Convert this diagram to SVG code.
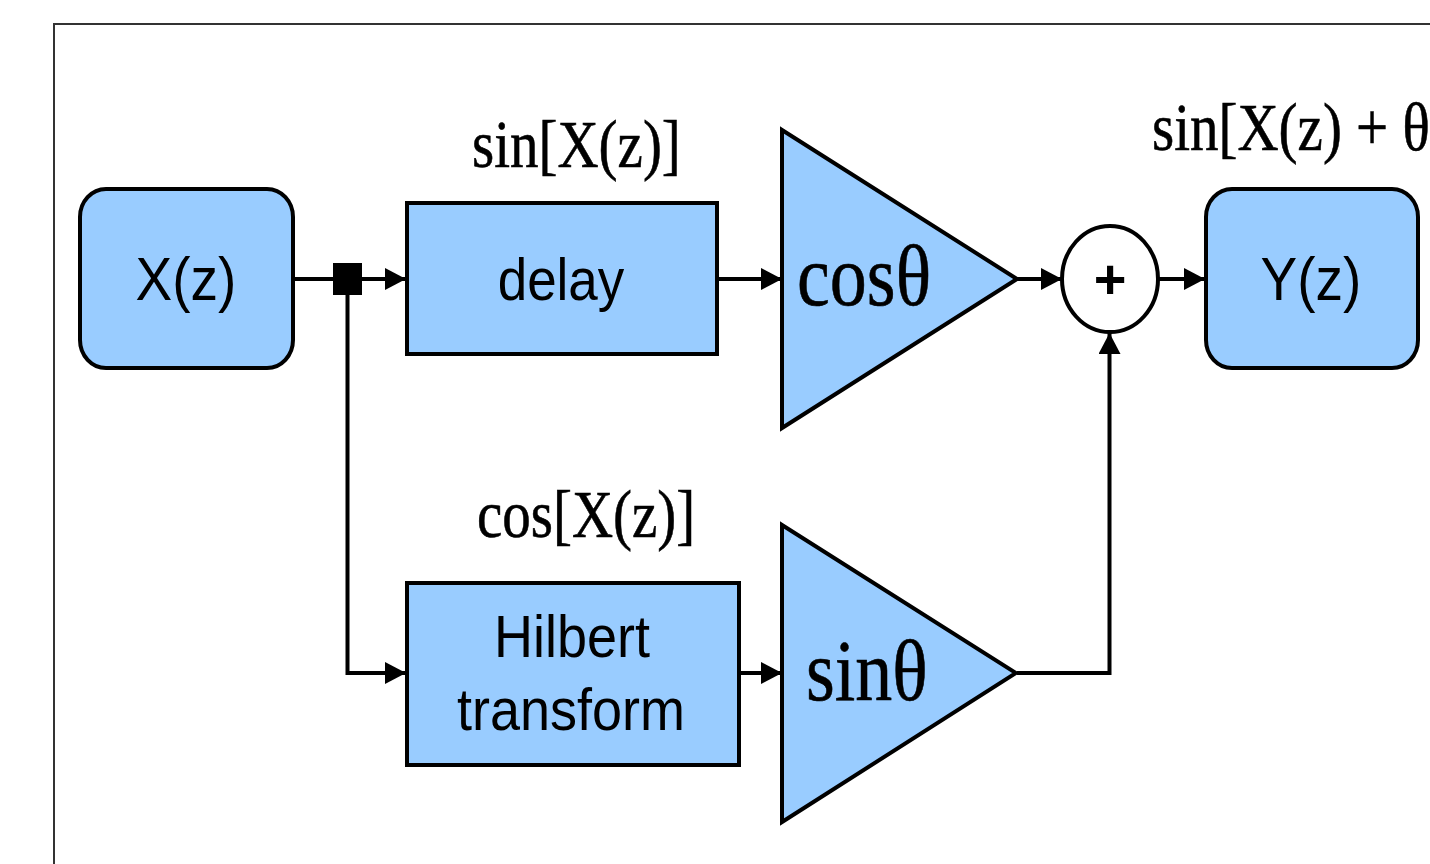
<svg xmlns="http://www.w3.org/2000/svg" width="1430" height="864" viewBox="0 0 1430 864">
  <style>
    .blk { fill: #99CCFF; stroke: #000; stroke-width: 4; }
    .wire { fill: none; stroke: #000; stroke-width: 4; }
    .sans { font-family: "Liberation Sans", Arial, sans-serif; fill: #000; text-anchor: middle; }
    .serif { font-family: "Liberation Serif", "Times New Roman", serif; fill: #000; stroke: #000; stroke-width: 0.5; }
  </style>
  <defs>
    <marker id="arrow" markerUnits="userSpaceOnUse" markerWidth="22" markerHeight="22" refX="21" refY="11" orient="auto">
      <path d="M0,0 L21,11 L0,22 Z" fill="#000"/>
    </marker>
  </defs>

  <rect width="1430" height="864" fill="#fff"/>
  <!-- outer frame -->
  <rect x="54" y="24" width="1420" height="900" fill="none" stroke="#333" stroke-width="2"/>

  <!-- connectors -->
  <g id="connectors">
    <path class="wire" d="M293,279 H333"/>
    <path class="wire" d="M362,279 H406" marker-end="url(#arrow)"/>
    <path class="wire" d="M347.5,295 V673 H406" marker-end="url(#arrow)"/>
    <path class="wire" d="M717,279 H782" marker-end="url(#arrow)"/>
    <path class="wire" d="M739,673 H782" marker-end="url(#arrow)"/>
    <path class="wire" d="M1017,279 H1062" marker-end="url(#arrow)"/>
    <path class="wire" d="M1017,673 H1109.5 V333" marker-end="url(#arrow)"/>
    <path class="wire" d="M1158,279 H1205" marker-end="url(#arrow)"/>
    <rect id="junction" x="333" y="263" width="29" height="32" fill="#000"/>
  </g>

  <g id="input">
    <rect class="blk" x="80" y="189" width="213" height="179" rx="26" ry="28"/>
    <text class="sans" transform="translate(186,300) scale(1,1.1)" font-size="55">X(z)</text>
  </g>

  <g id="delay">
    <rect class="blk" x="407" y="203" width="310" height="151"/>
    <text class="sans" transform="translate(561,300) scale(1,1.12)" font-size="53">delay</text>
    <text class="serif" transform="translate(472,167) scale(1,1.19)" font-size="57">sin[X(z)]</text>
  </g>

  <g id="hilbert">
    <rect class="blk" x="407" y="583" width="332" height="182"/>
    <text class="sans" transform="translate(572,657) scale(1,1.1)" font-size="54">Hilbert</text>
    <text class="sans" transform="translate(571,730) scale(1,1.1)" font-size="54">transform</text>
    <text class="serif" transform="translate(477,537) scale(1,1.19)" font-size="57">cos[X(z)]</text>
  </g>

  <g id="gain-cos">
    <polygon class="blk" points="782,130 1017,279 782,428"/>
    <text class="serif" transform="translate(797,305) scale(1,1.18)" font-size="74">cosθ</text>
  </g>

  <g id="gain-sin">
    <polygon class="blk" points="782,525 1016,673 782,822"/>
    <text class="serif" transform="translate(806,700) scale(1,1.18)" font-size="74">sinθ</text>
  </g>

  <g id="sum">
    <ellipse cx="1110" cy="279" rx="48" ry="53" fill="#fff" stroke="#000" stroke-width="4"/>
    <text class="sans" x="1110" y="298" font-size="56" font-weight="bold">+</text>
  </g>

  <g id="output">
    <rect class="blk" x="1206" y="189" width="212" height="179" rx="26" ry="28"/>
    <text class="sans" transform="translate(1311,300) scale(1,1.1)" font-size="55">Y(z)</text>
    <text class="serif" transform="translate(1152,150) scale(1,1.19)" font-size="57">sin[X(z) + θ]</text>
  </g>
</svg>
